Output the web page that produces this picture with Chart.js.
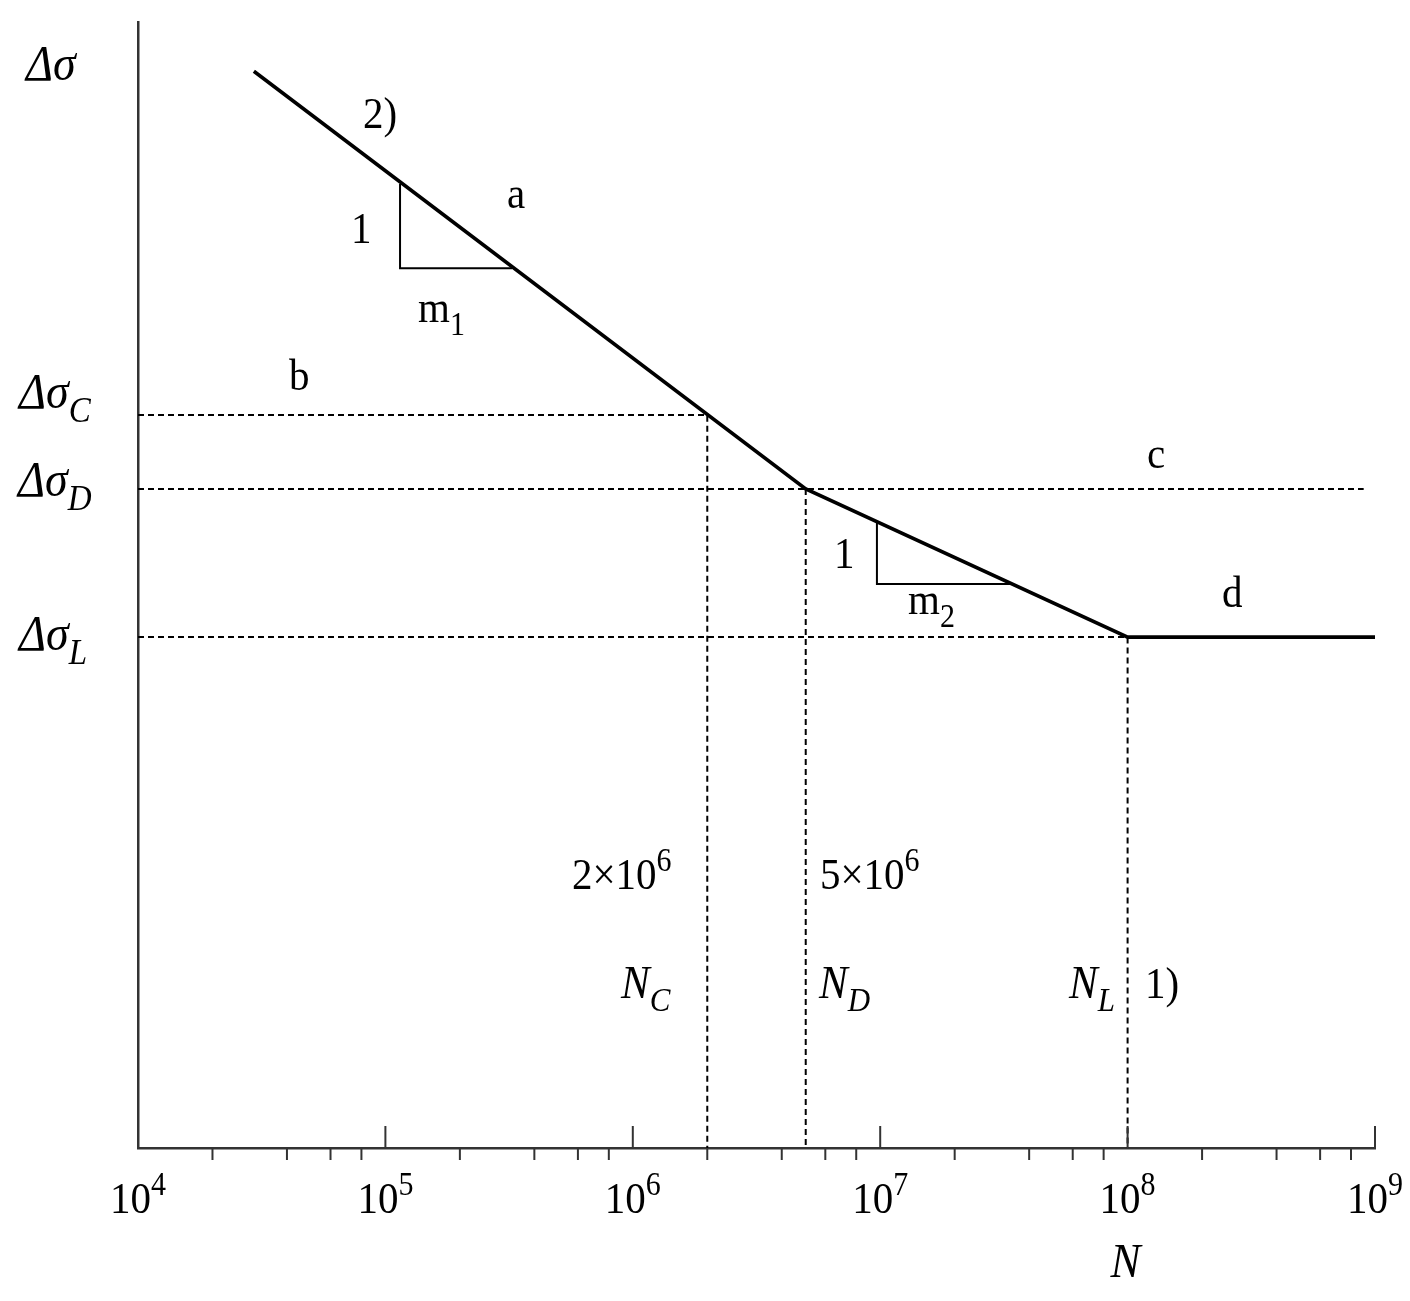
<!DOCTYPE html>
<html>
<head>
<meta charset="utf-8">
<script src="https://cdn.jsdelivr.net/npm/chart.js@4.4.0/dist/chart.umd.min.js"></script>
<style>
  body { margin: 0; background: #fff; }
  #wrap { width: 1410px; height: 1301px; }
</style>
</head>
<body>
<div id="wrap"><canvas id="snChart"></canvas></div>
<script>
// S-N curve: N = cycles (log axis), stress range in relative units (log axis, no ticks)
const curveN = [2.94e4, 5e6, 1e8, 1e9];
const curveStress = [413, 73.7, 40, 40];

const stressC = 100, stressD = 73.7, stressL = 40;
const nC = 2e6, nD = 5e6, nL = 1e8;
const nMin = 1e4, nMax = 1e9;
const stressMin = 4.86, stressMax = 506;
const nDashEnd = 9.0e8;

// slope triangles (1 : m1, 1 : m2)
const tri1N = [1.146e5, 1.146e5, 3.25e5];
const tri1Stress = [259.4, 183.2, 183.2];
const tri2N = [9.7e6, 9.7e6, 3.4e7];
const tri2Stress = [64.4, 49.8, 49.8];

const tickExponents = [4, 5, 6, 7, 8, 9];
const minorSteps = [2, 4, 6, 8];

const FONT = '"Liberation Serif", "Times New Roman", serif';

// text labels, x/y in canvas px (y = baseline), sz = font size
const notes = [
  { x: 26, y: 80, sz: 46, parts: [{ t: 'Δσ', i: 1 }] },
  { x: 19, y: 408, sz: 46, parts: [{ t: 'Δσ', i: 1 }, { t: 'C', i: 1, s: 'sub' }] },
  { x: 18, y: 496, sz: 46, parts: [{ t: 'Δσ', i: 1 }, { t: 'D', i: 1, s: 'sub' }] },
  { x: 19, y: 650, sz: 46, parts: [{ t: 'Δσ', i: 1 }, { t: 'L', i: 1, s: 'sub' }] },
  { x: 363, y: 128, parts: [{ t: '2)' }] },
  { x: 507, y: 208, parts: [{ t: 'a' }] },
  { x: 351, y: 243, parts: [{ t: '1' }] },
  { x: 418, y: 322, parts: [{ t: 'm' }, { t: '1', s: 'sub' }] },
  { x: 289, y: 390, parts: [{ t: 'b' }] },
  { x: 1147, y: 468, parts: [{ t: 'c' }] },
  { x: 834, y: 568, parts: [{ t: '1' }] },
  { x: 908, y: 614, parts: [{ t: 'm' }, { t: '2', s: 'sub' }] },
  { x: 1222, y: 607, parts: [{ t: 'd' }] },
  { x: 572, y: 889, parts: [{ t: '2×10' }, { t: '6', s: 'sup' }] },
  { x: 820, y: 889, parts: [{ t: '5×10' }, { t: '6', s: 'sup' }] },
  { x: 621, y: 998, sz: 43, parts: [{ t: 'N', i: 1 }, { t: 'C', i: 1, s: 'sub' }] },
  { x: 819, y: 998, sz: 43, parts: [{ t: 'N', i: 1 }, { t: 'D', i: 1, s: 'sub' }] },
  { x: 1069, y: 998, sz: 43, parts: [{ t: 'N', i: 1 }, { t: 'L', i: 1, s: 'sub' }] },
  { x: 1145, y: 998, parts: [{ t: '1)' }] }
];

function pts(xs, ys) {
  return xs.map((v, k) => ({ x: v, y: ys[k] }));
}

function partFont(p, sz) {
  const size = p.s ? Math.round(sz * 0.72) : sz;
  return (p.i ? 'italic ' : '') + size + 'px ' + FONT;
}

// draws text pieces with sub/superscripts, slightly stretched vertically like the source figure
function drawRich(ctx, parts, x, y, align, sz) {
  sz = sz || 41;
  let w = 0;
  parts.forEach(p => { ctx.font = partFont(p, sz); w += ctx.measureText(p.t).width; });
  let cx = align === 'center' ? x - w / 2 : x;
  ctx.save();
  ctx.translate(0, y);
  ctx.scale(1, 1.1);
  ctx.textAlign = 'left';
  ctx.textBaseline = 'alphabetic';
  parts.forEach(p => {
    ctx.font = partFont(p, sz);
    const dy = p.s === 'sub' ? sz * 0.28 : p.s === 'sup' ? -sz * 0.4 : 0;
    ctx.fillText(p.t, cx, dy);
    cx += ctx.measureText(p.t).width;
  });
  ctx.restore();
}

const decorations = {
  id: 'decorations',
  afterDraw(chart) {
    const ctx = chart.ctx;
    const xs = chart.scales.x, ys = chart.scales.y;
    const axisY = ys.getPixelForValue(stressMin);
    ctx.save();
    ctx.strokeStyle = '#333';
    ctx.fillStyle = '#000';
    ctx.lineWidth = 2;
    const seg = (x1, y1, x2, y2) => { ctx.beginPath(); ctx.moveTo(x1, y1); ctx.lineTo(x2, y2); ctx.stroke(); };
    tickExponents.forEach(e => {
      const px = xs.getPixelForValue(Math.pow(10, e));
      seg(px, axisY, px, axisY - 22);
      if (e < tickExponents[tickExponents.length - 1]) {
        minorSteps.forEach(m => {
          const p = xs.getPixelForValue(m * Math.pow(10, e));
          seg(p, axisY, p, axisY + 12);
        });
      }
      drawRich(ctx, [{ t: '10' }, { t: String(e), s: 'sup' }], px, axisY + 65, 'center', 41);
    });
    drawRich(ctx, [{ t: 'N', i: 1 }], xs.getPixelForValue(nL) - 2, axisY + 129, 'center', 45);
    notes.forEach(n => drawRich(ctx, n.parts, n.x, n.y, 'left', n.sz));
    ctx.restore();
  }
};

const dashStyle = { borderColor: '#000', borderWidth: 2, borderDash: [6, 4], pointRadius: 0, fill: false };
const thinStyle = { borderColor: '#000', borderWidth: 2, pointRadius: 0, fill: false };

new Chart(document.getElementById('snChart'), {
  type: 'line',
  data: {
    datasets: [
      { data: pts(curveN, curveStress), borderColor: '#000', borderWidth: 3.6, pointRadius: 0, fill: false },
      { data: pts(tri1N, tri1Stress), ...thinStyle },
      { data: pts(tri2N, tri2Stress), ...thinStyle },
      { data: pts([nMin, nC, nC], [stressC, stressC, stressMin]), ...dashStyle },
      { data: pts([nMin, nDashEnd], [stressD, stressD]), ...dashStyle },
      { data: pts([nD, nD], [stressD, stressMin]), ...dashStyle },
      { data: pts([nMin, nL, nL], [stressL, stressL, stressMin]), ...dashStyle }
    ]
  },
  options: {
    responsive: true,
    maintainAspectRatio: false,
    animation: false,
    layout: { padding: { left: 138, top: 22, right: 35, bottom: 153 } },
    plugins: { legend: { display: false }, tooltip: { enabled: false } },
    elements: { line: { tension: 0 } },
    scales: {
      x: {
        type: 'logarithmic', min: nMin, max: nMax,
        ticks: { display: false },
        grid: { display: false, drawTicks: false },
        border: { display: true, color: '#333', width: 2.5 }
      },
      y: {
        type: 'logarithmic', min: stressMin, max: stressMax,
        ticks: { display: false },
        grid: { display: false, drawTicks: false },
        border: { display: true, color: '#333', width: 2.5 }
      }
    }
  },
  plugins: [decorations]
});
</script>
</body>
</html>
